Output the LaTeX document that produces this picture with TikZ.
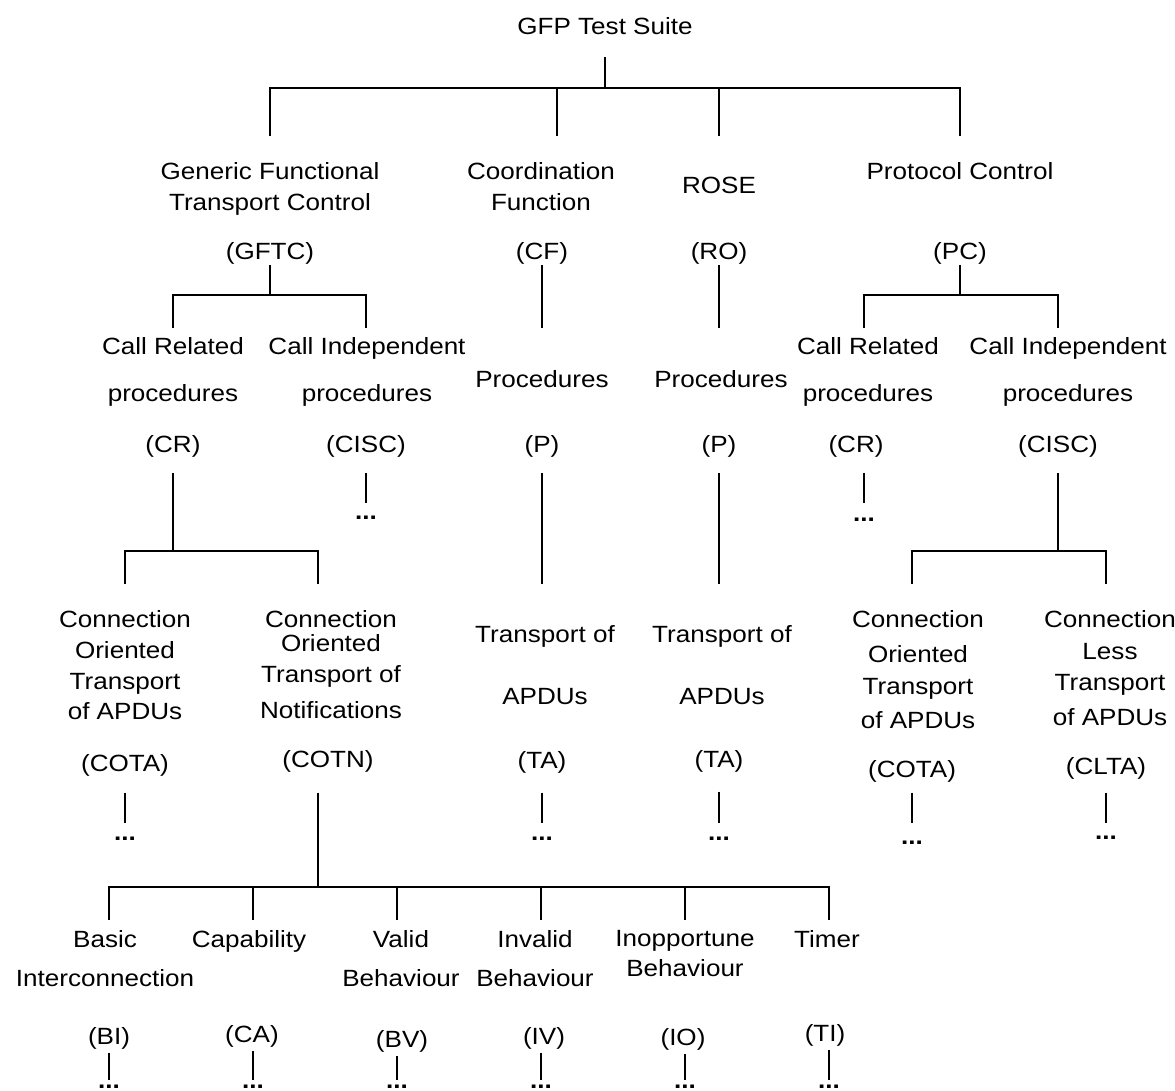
\documentclass[tikz,border=0pt]{standalone}
\usepackage{fontspec}
\setmainfont{Liberation Sans}[FakeStretch=1.11]
\begin{document}
\begin{tikzpicture}[x=0.025cm,y=-0.025cm,line width=1.4pt,
  every node/.style={inner sep=0pt,align=center,font=\fontsize{16.7}{22}\selectfont},
  lbl/.style={anchor=north,yshift=6.3pt},
  dots/.style={anchor=base,font=\fontsize{16.7}{22}\selectfont\bfseries},
  gap/.style={shorten <=#1}]
  \useasboundingbox (0,0) rectangle (1175,1090);
  % test suite and its four groups
  \node[lbl] (root) at (605,25) {GFP Test Suite};
  \node[lbl] (gftc) at (270,170) {Generic Functional\\Transport Control};
  \node[lbl] (cf) at (541,170) {Coordination\\Function};
  \node[lbl] (rose) at (719,185) {ROSE};
  \node[lbl] (pc) at (960,170) {Protocol Control};
  \node[lbl] (ab-gftc) at (270,250) {(GFTC)};
  \node[lbl] (ab-cf) at (542,250) {(CF)};
  \node[lbl] (ab-ro) at (719,250) {(RO)};
  \node[lbl] (ab-pc) at (960,250) {(PC)};
  % procedures
  \node[lbl] (cr1) at (173,345) {Call Related\\[12pt]procedures};
  \node[lbl] (ci1) at (367,345) {Call Independent\\[12pt]procedures};
  \node[lbl] (cfp) at (542,378) {Procedures};
  \node[lbl] (rop) at (721,378) {Procedures};
  \node[lbl] (cr2) at (868,345) {Call Related\\[12pt]procedures};
  \node[lbl] (ci2) at (1068,345) {Call Independent\\[12pt]procedures};
  \node[lbl] (ab-cr1) at (173,443) {(CR)};
  \node[lbl] (ab-ci1) at (366,443) {(CISC)};
  \node[lbl] (ab-cfp) at (542,443) {(P)};
  \node[lbl] (ab-rop) at (719,443) {(P)};
  \node[lbl] (ab-cr2) at (856,443) {(CR)};
  \node[lbl] (ab-ci2) at (1058,443) {(CISC)};
  % transport groups
  \node[lbl] (cota1) at (125,618) {Connection\\Oriented\\Transport\\of APDUs};
  \node[lbl] (cotn) at (331,618) {Connection\\[-5pt]Oriented\\[0.7pt]Transport of\\[3.6pt]Notifications};
  \node[lbl] (ta1) at (545,633) {Transport of\\[22pt]APDUs};
  \node[lbl] (ta2) at (722,633) {Transport of\\[22pt]APDUs};
  \node[lbl] (cota2) at (918,618) {Connection\\[2.8pt]Oriented\\[1.4pt]Transport\\[2.1pt]of APDUs};
  \node[lbl] (clta) at (1110,618) {Connection\\[0.7pt]Less\\[0.7pt]Transport\\[2.8pt]of APDUs};
  \node[lbl] (ab-cota1) at (125,762) {(COTA)};
  \node[lbl] (ab-cotn) at (328,758) {(COTN)};
  \node[lbl] (ab-ta1) at (542,759) {(TA)};
  \node[lbl] (ab-ta2) at (719,758) {(TA)};
  \node[lbl] (ab-cota2) at (912,768) {(COTA)};
  \node[lbl] (ab-clta) at (1106,765) {(CLTA)};
  % test groups of COTN
  \node[lbl] (bi) at (105,938) {Basic\\[5.7pt]Interconnection};
  \node[lbl] (ca) at (249,938) {Capability};
  \node[lbl] (bv) at (401,938) {Valid\\[5.7pt]Behaviour};
  \node[lbl] (iv) at (535,938) {Invalid\\[5.7pt]Behaviour};
  \node[lbl] (io) at (685,938) {Inopportune\\[-0.7pt]Behaviour};
  \node[lbl] (ti) at (827,938) {Timer};
  \node[lbl] (ab-bi) at (109,1035) {(BI)};
  \node[lbl] (ab-ca) at (252,1033) {(CA)};
  \node[lbl] (ab-bv) at (402,1038) {(BV)};
  \node[lbl] (ab-iv) at (544,1035) {(IV)};
  \node[lbl] (ab-io) at (683,1036) {(IO)};
  \node[lbl] (ab-ti) at (825,1032) {(TI)};
  % dots
  \node[dots] (dots-ci1) at (366,519) {...};
  \node[dots] (dots-cr2) at (864,521) {...};
  \node[dots] (dots-cota1) at (125,840) {...};
  \node[dots] (dots-ta1) at (542,840) {...};
  \node[dots] (dots-ta2) at (719,840) {...};
  \node[dots] (dots-cota2) at (912,844) {...};
  \node[dots] (dots-clta) at (1106,839) {...};
  % junctions and ends
  \coordinate (rootj) at (605,88);
  \coordinate (d-gftc) at (270,136);
  \coordinate (d-cf) at (557,136);
  \coordinate (d-ro) at (719,136);
  \coordinate (d-pc) at (960,136);
  \coordinate (gftcj) at (270,295);
  \coordinate (pcj) at (960,295);
  \coordinate (d-cr1) at (173,328);
  \coordinate (d-ci1) at (366,328);
  \coordinate (d-cfp) at (542,328);
  \coordinate (d-rop) at (719,328);
  \coordinate (d-cr2) at (864,328);
  \coordinate (d-ci2) at (1058,328);
  \coordinate (cr1j) at (173,551);
  \coordinate (ci2j) at (1058,551);
  \coordinate (e-ci1) at (366,503);
  \coordinate (e-cr2) at (864,503);
  \coordinate (d-cota1) at (125,584);
  \coordinate (d-cotn) at (318,584);
  \coordinate (d-ta1) at (542,584);
  \coordinate (d-ta2) at (719,584);
  \coordinate (d-cota2) at (912,584);
  \coordinate (d-clta) at (1106,584);
  \coordinate (e-cota1) at (125,823);
  \coordinate (e-ta1) at (542,823);
  \coordinate (e-ta2) at (719,823);
  \coordinate (e-cota2) at (912,823);
  \coordinate (e-clta) at (1106,823);
  \coordinate (cotnj) at (318,887);
  \foreach \c/\x in {bi/109,ca/253,bv/397,iv/541,io/685,ti/829} {
    \coordinate (d-\c) at (\x,920);
    \coordinate (e-\c) at (\x,1080);
    \node[dots] (dots-\c) at (\x,1088) {...};
  }
  % connectors
  \draw[gap=15.4pt] (root) -- (rootj);
  \draw (d-gftc) |- (rootj) -| (d-pc);
  \draw (rootj -| d-cf) -- (d-cf);
  \draw (rootj -| d-ro) -- (d-ro);
  \draw (ab-gftc) -- (gftcj);
  \draw (d-cr1) |- (gftcj) -| (d-ci1);
  \draw (ab-cf) -- (d-cfp);
  \draw (ab-ro) -- (d-rop);
  \draw (ab-pc) -- (pcj);
  \draw (d-cr2) |- (pcj) -| (d-ci2);
  \draw[gap=10.5pt] (ab-cr1) -- (cr1j);
  \draw (d-cota1) |- (cr1j) -| (d-cotn);
  \draw[gap=10.5pt] (ab-ci1) -- (e-ci1);
  \draw[gap=10.5pt] (ab-cfp) -- (d-ta1);
  \draw[gap=10.5pt] (ab-rop) -- (d-ta2);
  \draw[gap=10.5pt] (e-cr2 |- ab-cr2.south) -- (e-cr2);
  \draw[gap=10.5pt] (ab-ci2) -- (ci2j);
  \draw (d-cota2) |- (ci2j) -| (d-clta);
  \draw[gap=11.2pt] (ab-cota1) -- (e-cota1);
  \draw[gap=14pt] (cotnj |- ab-cotn.south) -- (cotnj);
  \draw[gap=13.3pt] (ab-ta1) -- (e-ta1);
  \draw[gap=13.3pt] (ab-ta2) -- (e-ta2);
  \draw[gap=6.9pt] (ab-cota2) -- (e-cota2);
  \draw[gap=9pt] (ab-clta) -- (e-clta);
  \draw (d-bi) |- (cotnj) -| (d-ti);
  \foreach \c in {ca,bv,iv,io}
    \draw (cotnj -| d-\c) -- (d-\c);
  \foreach \c in {bi,ca,bv,iv,io,ti}
    \draw[gap=2pt] (e-\c |- ab-\c.south) -- (e-\c);
\end{tikzpicture}
\end{document}
